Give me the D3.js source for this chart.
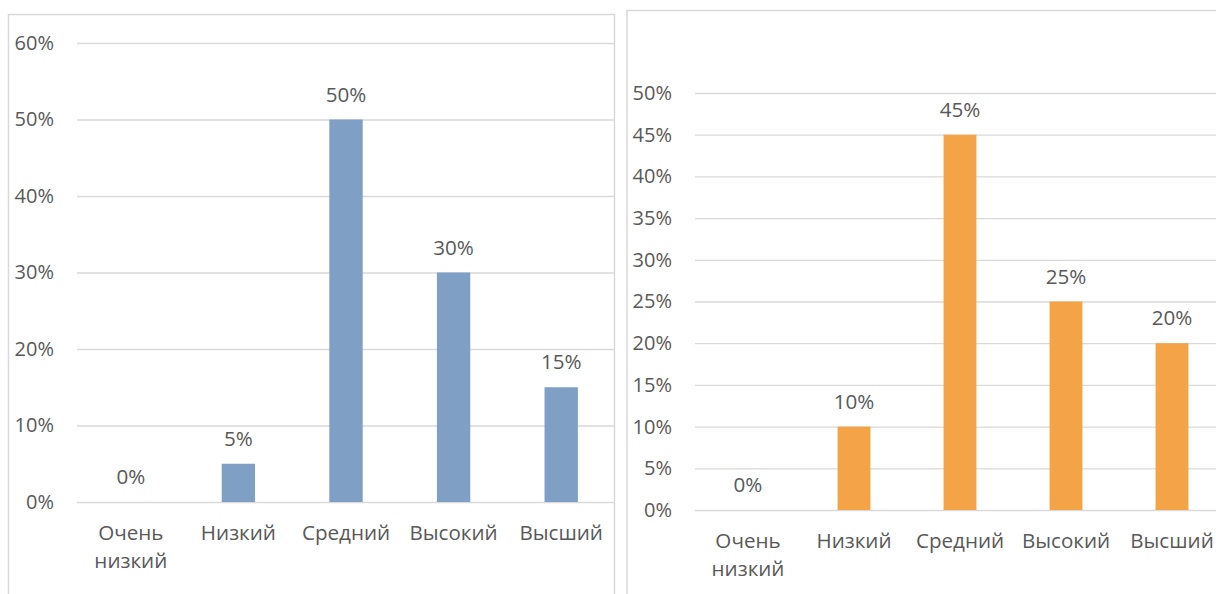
<!DOCTYPE html>
<html>
<head>
<meta charset="utf-8">
<script src="https://cdn.jsdelivr.net/npm/d3@7"></script>
<style>
  html, body { margin: 0; padding: 0; background: #ffffff; }
  svg { display: block; }
  text { font-family: "Open Sans", "Noto Sans", sans-serif; fill: #595959; }
</style>
</head>
<body>
<svg id="chart" width="1216" height="594"></svg>
<script>
// Levels (categories) shared by both charts
const categories = ["Очень низкий", "Низкий", "Средний", "Высокий", "Высший"];

// Share of respondents per level
const valuesLeft  = [0, 0.05, 0.50, 0.30, 0.15];
const valuesRight = [0, 0.10, 0.45, 0.25, 0.20];

// Y-axis tick values
const ticksLeft  = [0, 0.1, 0.2, 0.3, 0.4, 0.5, 0.6];
const ticksRight = [0, 0.05, 0.1, 0.15, 0.2, 0.25, 0.3, 0.35, 0.4, 0.45, 0.5];

const svg = d3.select("#chart");
const pct = d3.format(".0%");
const FONT = "20.6px";

function drawPanel(cfg) {
  const g = svg.append("g");

  // Panel frame
  g.append("rect")
    .attr("x", cfg.frame.x).attr("y", cfg.frame.y)
    .attr("width", cfg.frame.w).attr("height", cfg.frame.h)
    .attr("fill", "#ffffff")
    .attr("stroke", "#d9d9d9")
    .attr("stroke-width", 1.5);

  const x = d3.scaleBand()
    .domain(categories)
    .range([cfg.plot.x0, cfg.plot.x1])
    .paddingInner(0.69)
    .paddingOuter(0.345);

  const y = d3.scaleLinear()
    .domain([0, cfg.max])
    .range([cfg.plot.y0, cfg.plot.y1]);

  // Horizontal gridlines and tick labels
  const yAxis = d3.axisLeft(y)
    .tickValues(cfg.ticks)
    .tickFormat(pct)
    .tickSize(-(cfg.plot.gridEnd - cfg.plot.x0))
    .tickPadding(23);

  const ga = g.append("g")
    .attr("transform", `translate(${cfg.plot.x0},0)`)
    .call(yAxis);
  ga.select(".domain").remove();
  ga.selectAll(".tick line").attr("stroke", "#d9d9d9").attr("stroke-width", 1.3);
  ga.selectAll(".tick text")
    .attr("fill", "#595959")
    .style("font-size", "20px")
    .style("font-family", "'Open Sans', 'Noto Sans', sans-serif");

  // Bars
  g.append("g").selectAll("rect")
    .data(cfg.values)
    .join("rect")
    .attr("x", (d, i) => x(categories[i]))
    .attr("width", x.bandwidth())
    .attr("y", d => y(d))
    .attr("height", d => y(0) - y(d))
    .attr("fill", cfg.color);

  // Value labels above bars
  g.append("g").selectAll("text")
    .data(cfg.values)
    .join("text")
    .attr("x", (d, i) => x(categories[i]) + x.bandwidth() / 2)
    .attr("y", d => y(d) - 25)
    .attr("dy", "0.35em")
    .attr("text-anchor", "middle")
    .style("font-size", FONT)
    .text(d => pct(d));

  // Category labels, wrapped on spaces
  const cl = g.append("g").selectAll("text")
    .data(categories)
    .join("text")
    .attr("x", d => x(d) + x.bandwidth() / 2)
    .attr("y", y(0) + 31)
    .attr("text-anchor", "middle")
    .style("font-size", FONT);
  cl.each(function (d) {
    const t = d3.select(this);
    d.split(" ").forEach((w, i) => {
      t.append("tspan")
        .attr("x", t.attr("x"))
        .attr("dy", i === 0 ? "0.35em" : "28")
        .text(w);
    });
  });
}

drawPanel({
  frame: { x: 8.5, y: 14.5, w: 606, h: 620 },
  plot: { x0: 77, x1: 615, gridEnd: 614, y0: 502, y1: 43 },
  max: 0.6,
  ticks: ticksLeft,
  values: valuesLeft,
  color: "#7f9fc4"
});

drawPanel({
  frame: { x: 627, y: 10.5, w: 640, h: 620 },
  plot: { x0: 695, x1: 1225, gridEnd: 1225, y0: 510, y1: 93 },
  max: 0.5,
  ticks: ticksRight,
  values: valuesRight,
  color: "#f4a446"
});
</script>
</body>
</html>
